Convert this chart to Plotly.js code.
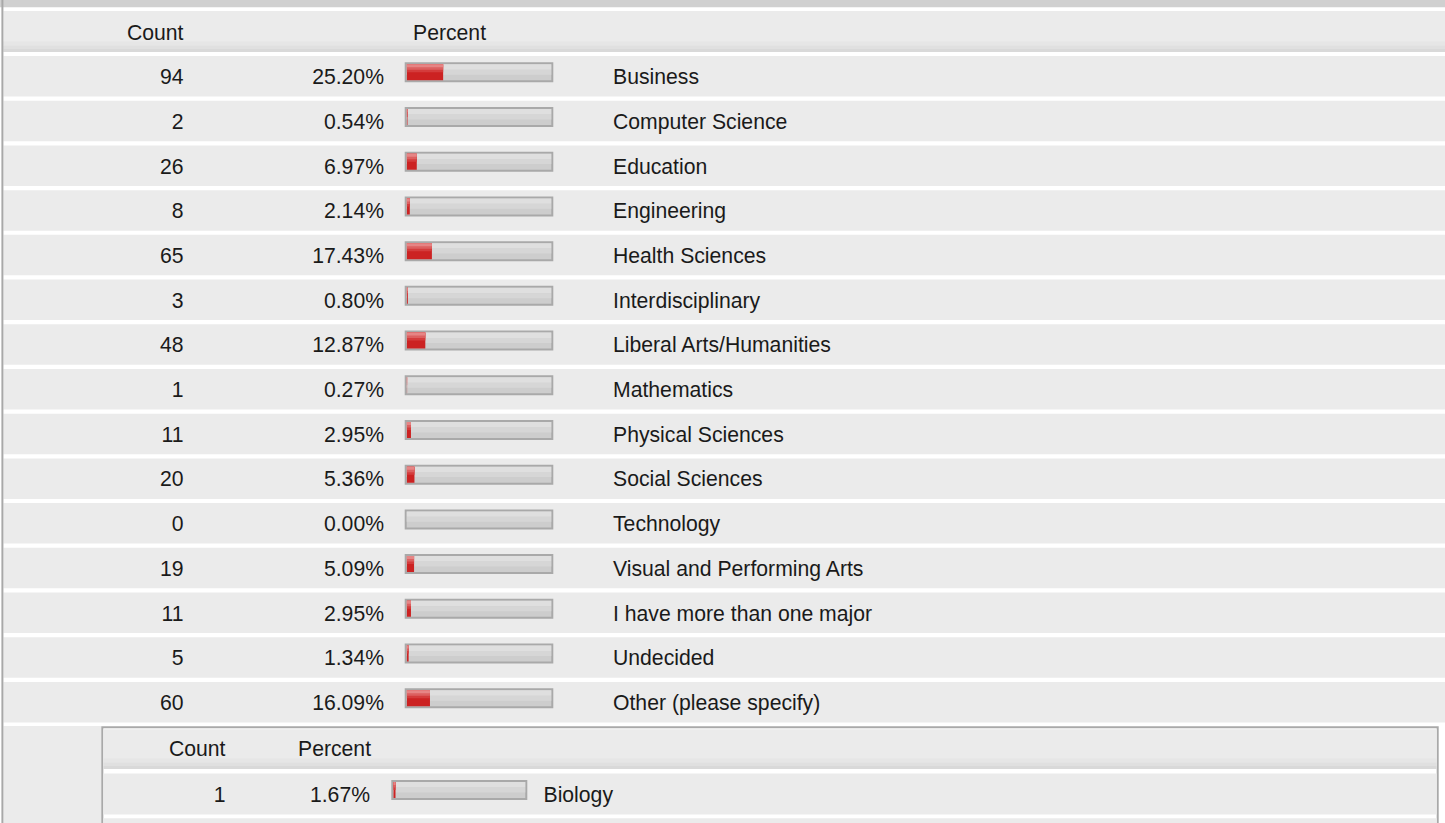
<!DOCTYPE html>
<html>
<head>
<meta charset="utf-8">
<script src="https://cdn.plot.ly/plotly-3.0.1.min.js"></script>
<style>
html,body{margin:0;padding:0;background:#ffffff;overflow:hidden}
#chart{width:1445px;height:823px}
</style>
</head>
<body>
<div id="chart"></div>
<script>
// ---------------- DATA ----------------
const categories = ['Business','Computer Science','Education','Engineering','Health Sciences',
  'Interdisciplinary','Liberal Arts/Humanities','Mathematics','Physical Sciences','Social Sciences',
  'Technology','Visual and Performing Arts','I have more than one major','Undecided','Other (please specify)'];
const counts = [94,2,26,8,65,3,48,1,11,20,0,19,11,5,60];
const percents = [25.20,0.54,6.97,2.14,17.43,0.80,12.87,0.27,2.95,5.36,0.00,5.09,2.95,1.34,16.09];
const columnHeaders = ['Count','Percent'];
const otherCategories = ['Biology'];
const otherCounts = [1];
const otherPercents = [1.67];

// ---------------- LAYOUT HELPERS ----------------
const W = 1445, H = 823;
const PX = 44.71;          // pixels per row unit
const Y0 = 76.2;           // pixel centre of first row
const u = p => p / PX;
const yTop = -Y0 / PX, yBot = (H - Y0) / PX;
const HEADER_Y = -1.0;
const NEST0 = 15.052;
const FONT = {family: 'Liberation Sans, Arial, Helvetica, sans-serif', size: 21.2, color: '#1a1a1a'};

const shapes = [];
function rect(x0, x1, y0, y1, fill, lineColor, lineWidth) {
  shapes.push({type: 'rect', xref: 'x', yref: 'y', layer: 'below',
    x0: x0, x1: x1, y0: y0, y1: y1, fillcolor: fill,
    line: {color: lineColor || 'rgba(0,0,0,0)', width: lineWidth || 0}});
}
function headerBand(x0, x1, yc, up, down) {
  rect(x0, x1, yc + u(up), yc + u(down), '#ebebeb');
  rect(x0, x1, yc + u(down - 10.5), yc + u(down - 6.5), '#e6e6e6');
  rect(x0, x1, yc + u(down - 6.5), yc + u(down - 3), '#e0e0e0');
  rect(x0, x1, yc + u(down - 3), yc + u(down), '#d9d9d9');
}
function track(x0, x1, yc) {
  rect(x0, x1, yc + u(-12.9), yc + u(5.1), '#cdcdcd', '#a9a9a9', 2);
  rect(x0 + 1, x1 - 1, yc + u(-11.9), yc + u(-6.5), '#dfdfdf');
  rect(x0 + 1, x1 - 1, yc + u(-6.5), yc + u(-1.5), '#d6d6d6');
}

// top band
rect(0, W, yTop - 0.2, yTop + u(7.3), '#d0d0d0');
// main header
headerBand(3.4, W, HEADER_Y, -20.5, 20.5);
// main rows
const idx = categories.map((_, i) => i);
idx.forEach(i => {
  rect(3.4, W, i + u(-20.2), i + u(20.3), '#ebebeb');
  track(405.7, 552.3, i);
});
// nested container
rect(3.4, 101.3, u(726 - Y0), yBot + 0.3, '#ebebeb');
rect(102.3, 1437.7, u(727.3 - Y0), yBot + 0.6, '#ffffff', '#a9a9a9', 2);
headerBand(103.3, 1436.7, NEST0, -19.9, 19.8);
const nIdx = otherCategories.map((_, k) => NEST0 + 1 + k);
nIdx.forEach(y => {
  rect(103.3, 1436.7, y + u(-20.4), y + u(20.5), '#ebebeb');
  track(392.3, 526.3, y);
});
// next (cut-off) row of nested table
const nextY = NEST0 + 1 + otherCategories.length;
rect(103.3, 1436.7, nextY + u(-20.4), yBot + 0.3, '#ebebeb');
// left border
shapes.push({type: 'line', xref: 'x', yref: 'y', layer: 'below', x0: 2.4, x1: 2.4,
  y0: yTop - 0.2, y1: yBot + 0.2, line: {color: '#a8a8a8', width: 2}});

// ---------------- TRACES ----------------
function textTrace(xs, ys, texts, pos) {
  return {type: 'scatter', mode: 'text', xaxis: 'x', yaxis: 'y', x: xs, y: ys, text: texts,
    textposition: pos, textfont: FONT, cliponaxis: false, hoverinfo: 'skip', showlegend: false};
}
const fmtPct = p => p.toFixed(2) + '%';
const tShift = u(2.6);
const hShift = u(3.2);

const traces = [
  textTrace([183.5, 413], [HEADER_Y + hShift, HEADER_Y + hShift], columnHeaders, ['middle left', 'middle right']),
  textTrace(idx.map(() => 183.5), idx.map(i => i + tShift), counts.map(String), 'middle left'),
  textTrace(idx.map(() => 384), idx.map(i => i + tShift), percents.map(fmtPct), 'middle left'),
  textTrace(idx.map(() => 613), idx.map(i => i + tShift), categories, 'middle right'),
  textTrace([225.5, 298], [NEST0 + u(2), NEST0 + u(2)], columnHeaders, ['middle left', 'middle right']),
  textTrace(nIdx.map(() => 225.5), nIdx.map(y => y + u(3)), otherCounts.map(String), 'middle left'),
  textTrace(nIdx.map(() => 370), nIdx.map(y => y + u(3)), otherPercents.map(fmtPct), 'middle left'),
  textTrace(nIdx.map(() => 543.5), nIdx.map(y => y + u(3)), otherCategories, 'middle right')
];

function redBars(xaxis, vals, ys) {
  const layers = [
    {h: 16, c: '#cc2222'},
    {h: 8, c: '#d43c3c'},
    {h: 5.5, c: '#dc6060'},
    {h: 3, c: '#e68585'}
  ];
  return layers.map(l => ({
    type: 'bar', orientation: 'h', xaxis: xaxis, yaxis: 'y', x: vals, y: ys,
    width: u(l.h), offset: u(-11.9), marker: {color: l.c, line: {width: 0}},
    hoverinfo: 'skip', showlegend: false
  }));
}
traces.push(...redBars('x2', percents, idx));
traces.push(...redBars('x3', otherPercents, nIdx));

const layout = {
  width: W, height: H, autosize: false,
  margin: {l: 0, r: 0, t: 0, b: 0, pad: 0},
  paper_bgcolor: '#ffffff', plot_bgcolor: 'rgba(0,0,0,0)',
  showlegend: false, hovermode: false, barmode: 'overlay',
  xaxis: {range: [0, W], visible: false, fixedrange: true, showgrid: false, zeroline: false},
  xaxis2: {domain: [406.7 / W, 551.3 / W], range: [0, 100], anchor: 'y', visible: false, fixedrange: true, showgrid: false, zeroline: false},
  xaxis3: {domain: [393.3 / W, 525.3 / W], range: [0, 100], anchor: 'y', visible: false, fixedrange: true, showgrid: false, zeroline: false},
  yaxis: {range: [yBot, yTop], visible: false, fixedrange: true, showgrid: false, zeroline: false},
  shapes: shapes
};

Plotly.newPlot('chart', traces, layout, {staticPlot: true, displayModeBar: false});
</script>
</body>
</html>
